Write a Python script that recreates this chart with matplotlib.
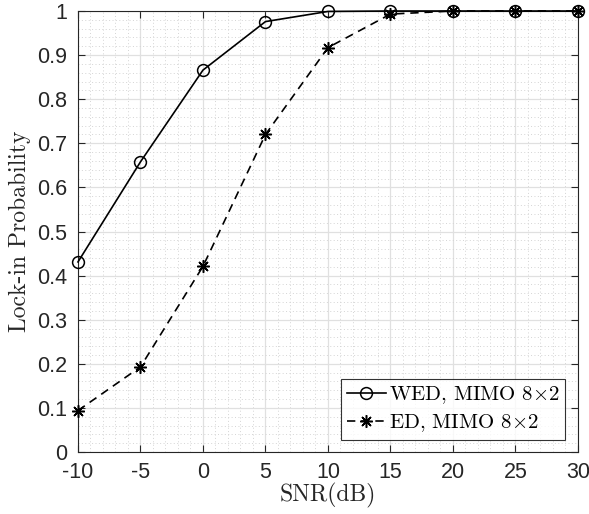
import matplotlib
matplotlib.use("Agg")
import matplotlib.pyplot as plt
from matplotlib.ticker import MultipleLocator

snr_db = [-10, -5, 0, 5, 10, 15, 20, 25, 30]
wed_prob = [0.431, 0.658, 0.866, 0.976, 0.999, 1.0, 1.0, 1.0, 1.0]
ed_prob = [0.094, 0.193, 0.421, 0.720, 0.917, 0.993, 1.0, 1.0, 1.0]
wed_label = r"WED, MIMO $8{\times}2$"
ed_label = r"ED, MIMO $8{\times}2$"
x_label = "SNR(dB)"
y_label = "Lock-in Probability"
x_ticks = [-10, -5, 0, 5, 10, 15, 20, 25, 30]
y_ticks = [0, 0.1, 0.2, 0.3, 0.4, 0.5, 0.6, 0.7, 0.8, 0.9, 1.0]

plt.rcParams["mathtext.fontset"] = "cm"
plt.rcParams["axes.unicode_minus"] = False

fig = plt.figure(figsize=(5.89, 5.14), dpi=100)
ax = fig.add_axes([0.1324, 0.1206, 0.8489, 0.8580])

ax.plot(snr_db, wed_prob, color="black", lw=1.2, marker="o", ms=8.5,
        mfc="none", mew=1.1, label=wed_label, zorder=3, clip_on=False)
ax.plot(snr_db, ed_prob, color="black", lw=1.2, ls=(0, (5, 3.5)),
        marker=(8, 2, 0), ms=9, mew=1.1, label=ed_label, zorder=3, clip_on=False)

ax.set_xlim(-10, 30)
ax.set_ylim(0, 1)
ax.set_xticks(x_ticks)
ax.set_yticks(y_ticks)
ax.set_xticklabels([str(t) for t in x_ticks])
ax.set_yticklabels(["0" if t == 0 else ("1" if t == 1 else f"{t:g}") for t in y_ticks])
ax.xaxis.set_minor_locator(MultipleLocator(1))
ax.yaxis.set_minor_locator(MultipleLocator(0.02))

ax.grid(which="major", color="#e0e0e0", lw=0.9)
ax.grid(which="minor", color="#d4d4d4", lw=0.7, ls=(0, (1, 2.5)))
ax.set_axisbelow(True)

ax.tick_params(which="major", direction="in", length=5, width=0.8,
               top=True, right=True, color="#262626",
               labelsize=15.5, labelcolor="#262626")
ax.tick_params(axis="x", which="major", pad=7)
ax.tick_params(axis="y", which="major", pad=8)
ax.tick_params(which="minor", length=0, top=True, right=True)
for lab in ax.get_xticklabels() + ax.get_yticklabels():
    lab.set_family(["Liberation Sans", "DejaVu Sans"])
for sp in ax.spines.values():
    sp.set_color("#262626")
    sp.set_linewidth(0.8)

ax.set_xlabel(x_label, family="cmr10", fontsize=17, color="#262626", labelpad=0)
ax.set_ylabel(y_label, family="cmr10", fontsize=17, color="#262626", labelpad=4)

leg = ax.legend(loc="lower right", prop={"family": "cmr10", "size": 15},
                frameon=True, fancybox=False, edgecolor="black",
                borderpad=0.25, handlelength=1.9, handletextpad=0.15,
                labelspacing=0.3, borderaxespad=0.6)
leg.get_frame().set_linewidth(0.8)

fig.savefig("out.png", dpi=100, facecolor="white")
